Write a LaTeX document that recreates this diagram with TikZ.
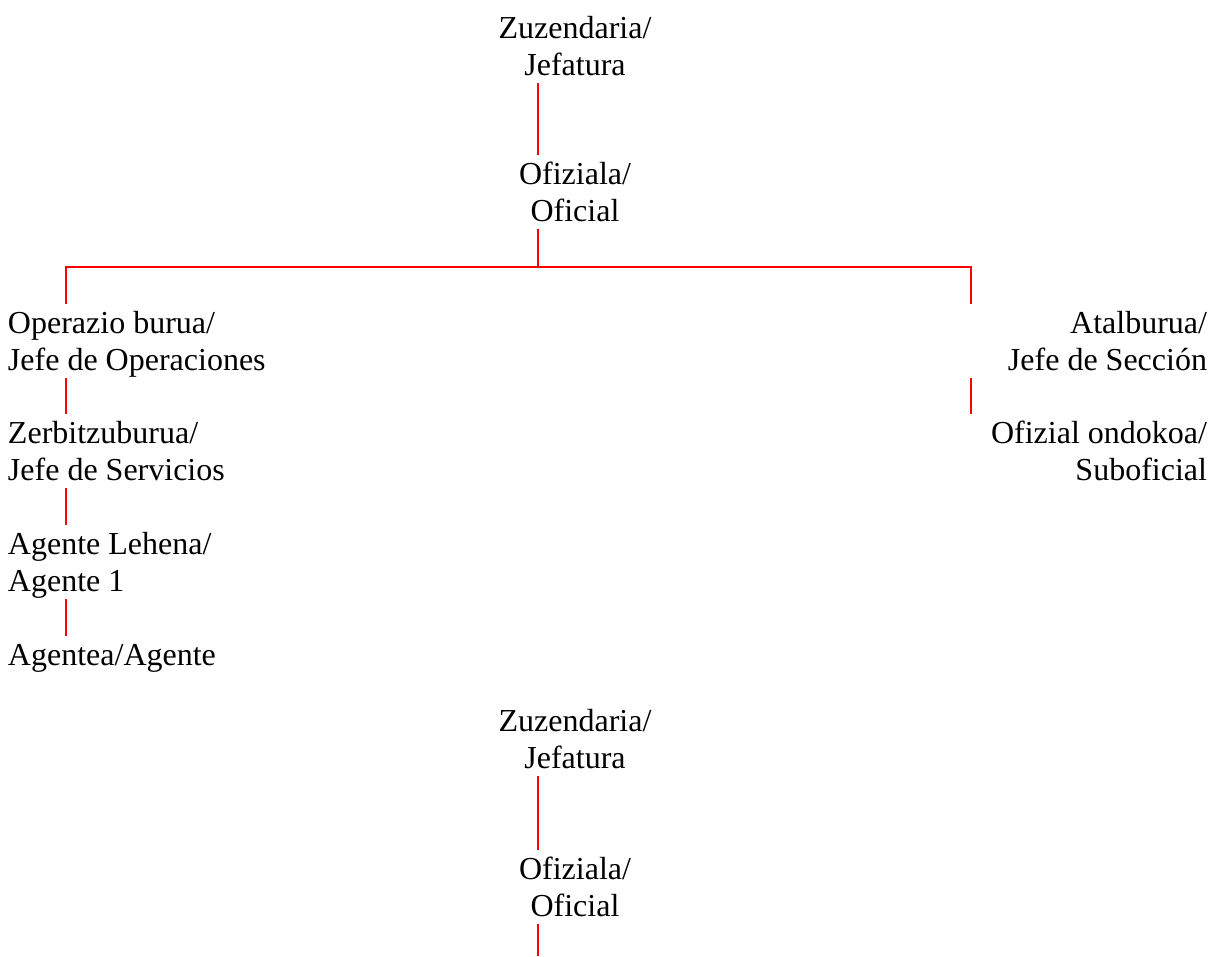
\documentclass[tikz,border=0pt]{standalone}
\usepackage{fontspec}
\setmainfont{Liberation Serif}
\newcommand\mystrut{\rule[-8pt]{0pt}{37pt}}
\begin{document}
\begin{tikzpicture}[x=1pt,y=-1pt,
  lbl/.style={inner sep=0pt,outer sep=0pt,font=\fontsize{32pt}{37pt}\selectfont},
  ctr/.style={lbl,anchor=north,align=center},
  lft/.style={lbl,anchor=north west,align=left},
  rgt/.style={lbl,anchor=north east,align=right},
  link/.style={draw=red,line width=2pt}]
\useasboundingbox (0,0) rectangle (1210,956);
% guide coordinates
\coordinate (mx) at (538,0);
\coordinate (lx) at (66,0);
\coordinate (rx) at (971,0);
\coordinate (bar) at (538,266.5);
\coordinate (tail) at (538,956);
% top chart
\node[ctr] (z1) at (575,9) {\mystrut Zuzendaria/\\\mystrut Jefatura};
\node[ctr] (o1) at (575,155) {\mystrut Ofiziala/\\\mystrut Oficial};
\node[lft] (op) at (8,304) {\mystrut Operazio burua/\\\mystrut Jefe de Operaciones};
\node[lft] (zb) at (8,414) {\mystrut Zerbitzuburua/\\\mystrut Jefe de Servicios};
\node[lft] (al) at (8,525) {\mystrut Agente Lehena/\\\mystrut Agente 1};
\node[lft] (ag) at (8,636) {\mystrut Agentea/Agente};
\node[rgt] (at) at (1207,304) {\mystrut Atalburua/\\\mystrut Jefe de Sección};
\node[rgt] (so) at (1207,414) {\mystrut Ofizial ondokoa/\\\mystrut Suboficial};
% bottom chart
\node[ctr] (z2) at (575,702) {\mystrut Zuzendaria/\\\mystrut Jefatura};
\node[ctr] (o2) at (575,850) {\mystrut Ofiziala/\\\mystrut Oficial};
% connectors
\draw[link] (z1.south -| mx) -- (o1.north -| mx);
\draw[link] (o1.south -| mx) -- (bar);
\draw[link] (op.north -| lx) -- (lx |- bar) -- (rx |- bar) -- (at.north -| rx);
\draw[link] (op.south -| lx) -- (zb.north -| lx);
\draw[link] (zb.south -| lx) -- (al.north -| lx);
\draw[link] (al.south -| lx) -- (ag.north -| lx);
\draw[link] (at.south -| rx) -- (so.north -| rx);
\draw[link] (z2.south -| mx) -- (o2.north -| mx);
\draw[link] (o2.south -| mx) -- (tail);
\end{tikzpicture}
\end{document}
